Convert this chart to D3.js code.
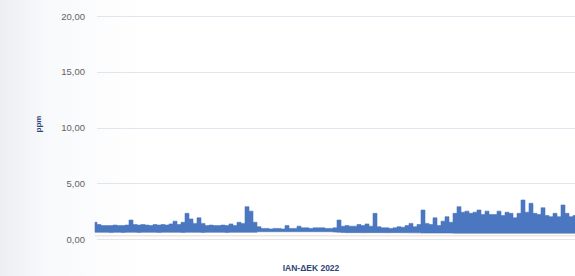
<!DOCTYPE html>
<html><head><meta charset="utf-8">
<script src="https://cdn.jsdelivr.net/npm/d3@7"></script>
<style>html,body{margin:0;padding:0;background:#fff;overflow:hidden}</style>
</head><body>
<svg id="c" width="575" height="276"></svg>
<script>
const yTicks = [0, 5, 10, 15, 20];
const yTickLabels = ["0,00", "5,00", "10,00", "15,00", "20,00"];
const yTitle = "ppm";
const xTitle = "IAN-ΔΕΚ 2022";
// upper envelope of the dense hourly series (ppm)
const upperValues = [
1.5,1.3,1.2,1.2,1.2,1.25,1.2,1.2,1.25,1.7,1.3,1.25,1.3,1.25,1.2,1.3,1.25,1.3,1.25,1.35,
1.6,1.3,1.5,2.3,1.8,1.4,1.9,1.4,1.2,1.25,1.2,1.2,1.25,1.2,1.35,1.2,1.5,1.4,2.9,2.5,
1.5,1.1,0.95,0.95,0.9,0.95,0.95,0.9,1.2,0.95,0.95,1.15,1.0,1.0,0.95,1.0,1.0,1.0,0.95,0.95,
1.0,1.7,1.15,1.2,1.15,1.15,1.3,1.2,1.35,1.15,2.3,1.1,1.0,1.0,0.95,1.0,1.1,1.05,1.2,1.4,
1.1,1.3,2.6,1.4,1.3,1.9,1.2,1.6,2.0,1.5,2.3,2.9,2.4,2.5,2.3,2.4,2.6,2.2,2.5,2.2,
2.2,2.5,2.1,2.4,2.3,1.9,2.3,3.5,2.4,3.2,2.3,2.2,2.8,2.1,2.0,2.3,2.0,3.05,2.3,2.0,2.1
];
// lower envelope (ppm)
const lowerValues = [
0.6,0.6,0.6,0.6,0.58,0.6,0.6,0.58,0.6,0.6,0.6,0.58,0.6,0.6,0.6,0.6,0.58,0.6,0.6,0.6,
0.6,0.6,0.58,0.6,0.6,0.6,0.6,0.58,0.6,0.6,0.6,0.6,0.6,0.58,0.6,0.6,0.6,0.6,0.6,0.6,
0.6,0.65,0.65,0.65,0.65,0.65,0.65,0.65,0.65,0.65,0.65,0.65,0.65,0.65,0.65,0.65,0.65,0.65,0.65,0.65,
0.62,0.6,0.58,0.57,0.57,0.57,0.57,0.56,0.57,0.57,0.57,0.57,0.57,0.56,0.57,0.57,0.57,0.56,0.56,0.55,
0.55,0.55,0.53,0.53,0.53,0.53,0.53,0.53,0.53,0.53,0.52,0.52,0.52,0.52,0.52,0.52,0.52,0.52,0.52,0.52,
0.52,0.52,0.52,0.52,0.52,0.52,0.52,0.52,0.52,0.52,0.52,0.52,0.52,0.52,0.52,0.52,0.52,0.52,0.52,0.52,0.52
];

const svg = d3.select("#c");
const defs = svg.append("defs");
const g1 = defs.append("linearGradient").attr("id","bg").attr("x1","0").attr("x2","1").attr("y1","0").attr("y2","0");
g1.append("stop").attr("offset","0").attr("stop-color","#eceef2");
g1.append("stop").attr("offset","0.08").attr("stop-color","#f8f9fb");
g1.append("stop").attr("offset","0.25").attr("stop-color","#ffffff");
svg.append("rect").attr("width",575).attr("height",276).attr("fill","url(#bg)");

const y = d3.scaleLinear().domain([0, 20]).range([239, 16]);
const x = d3.scaleLinear().domain([0, upperValues.length - 1]).range([95, 575]);

// gridlines
svg.append("g").selectAll("line").data(yTicks).join("line")
  .attr("x1", 97).attr("x2", 575)
  .attr("y1", d => Math.round(y(d)) + 0.5).attr("y2", d => Math.round(y(d)) + 0.5)
  .attr("stroke", "#e2e5ee").attr("stroke-width", 1.2);

// tick labels
svg.append("g").selectAll("text").data(yTicks).join("text")
  .attr("x", 85).attr("y", d => y(d) + 3.5)
  .attr("text-anchor", "end")
  .attr("font-family", "Liberation Sans, Arial, sans-serif")
  .attr("font-size", 9.5).attr("fill", "#626262")
  .text((d, i) => yTickLabels[i]);

// faint shadow under band
svg.append("line").attr("x1", 95).attr("x2", 575).attr("y1", y(0.3)).attr("y2", y(0.3))
  .attr("stroke", "#ead9c8").attr("stroke-width", 1.5).attr("opacity", 0.6);

const area = d3.area()
  .x((d, i) => x(i))
  .y0((d, i) => y(lowerValues[i]))
  .y1(d => y(d))
  .curve(d3.curveStep);

svg.append("path").datum(upperValues)
  .attr("d", area)
  .attr("fill", "#4a77c0")
  .attr("stroke", "#4a77c0").attr("stroke-width", 0.6);

svg.append("text")
  .attr("transform", "translate(41,124) rotate(-90)")
  .attr("text-anchor", "middle")
  .attr("font-family", "Liberation Sans, Arial, sans-serif")
  .attr("font-size", 8).attr("font-weight", "bold").attr("fill", "#2f4575")
  .text(yTitle);

svg.append("text")
  .attr("x", 311).attr("y", 271)
  .attr("text-anchor", "middle")
  .attr("font-family", "Liberation Sans, Arial, sans-serif")
  .attr("font-size", 8.5).attr("font-weight", "bold").attr("fill", "#2f4575")
  .text(xTitle);
</script>
</body></html>
